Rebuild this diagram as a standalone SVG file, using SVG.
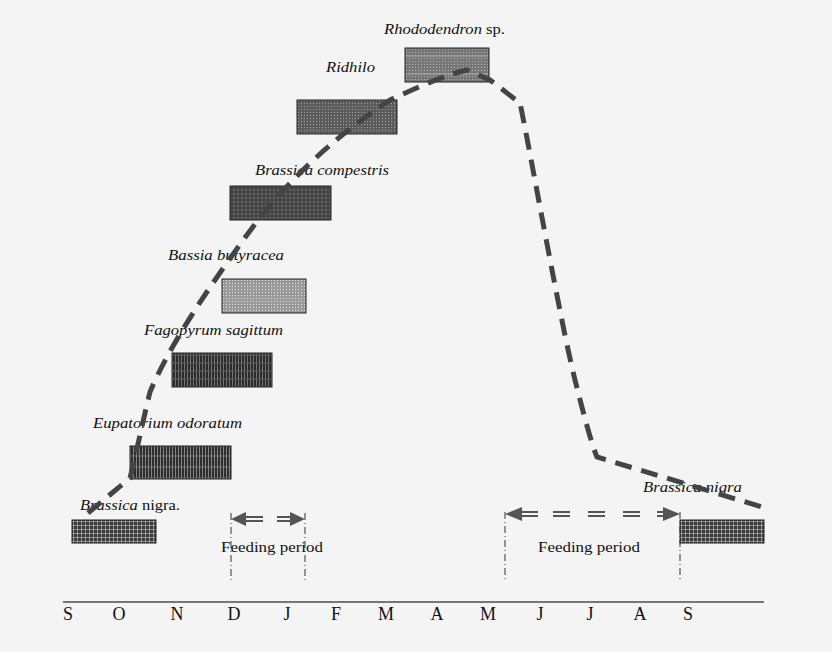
<svg xmlns="http://www.w3.org/2000/svg" width="832" height="652" viewBox="0 0 832 652">
<style>
.lbl{font-family:"Liberation Serif","Times New Roman",serif;font-size:15px;fill:#111}
.it{font-style:italic}
.mon{font-family:"Liberation Serif","Times New Roman",serif;font-size:18px;fill:#111}
.box{stroke:#222;stroke-width:1}
.vline{stroke:#333;stroke-width:1;stroke-dasharray:7 3 1 3;fill:none}
.shaft{stroke:#555;stroke-width:2;fill:none}
.head{fill:#555}
.curve{stroke:#444;stroke-width:5;fill:none;stroke-dasharray:17 10}
</style>
<defs>
<pattern id="pNigra" width="4" height="4" patternUnits="userSpaceOnUse">
<rect width="4" height="4" fill="#3a3a3a"/>
<path d="M1.5 0V4M0 1.5H4" stroke="#c8c8c8" stroke-width="0.6"/>
</pattern>
<pattern id="pEup" width="3" height="11" patternUnits="userSpaceOnUse">
<rect width="3" height="11" fill="#2e2e2e"/>
<path d="M1.5 0V11" stroke="#9a9a9a" stroke-width="0.8"/>
<path d="M0 5H3" stroke="#777" stroke-width="1"/>
</pattern>
<pattern id="pFag" width="3" height="8" patternUnits="userSpaceOnUse">
<rect width="3" height="8" fill="#2a2a2a"/>
<path d="M1.5 0V8" stroke="#8a8a8a" stroke-width="0.8"/>
<path d="M0 3H3" stroke="#555" stroke-width="1.5"/>
</pattern>
<pattern id="pBas" width="3" height="3" patternUnits="userSpaceOnUse">
<rect width="3" height="3" fill="#9a9a9a"/>
<rect x="1" y="1" width="1" height="1" fill="#e0e0e0"/>
</pattern>
<pattern id="pComp" width="4" height="4" patternUnits="userSpaceOnUse">
<rect width="4" height="4" fill="#3c3c3c"/>
<path d="M2 0V4M0 2H4" stroke="#6a6a6a" stroke-width="0.8"/>
</pattern>
<pattern id="pRid" width="3" height="3" patternUnits="userSpaceOnUse">
<rect width="3" height="3" fill="#5c5c5c"/>
<rect x="1" y="1" width="1" height="1" fill="#a0a0a0"/>
</pattern>
<pattern id="pRho" width="3" height="3" patternUnits="userSpaceOnUse">
<rect width="3" height="3" fill="#777"/>
<rect x="1" y="1" width="1" height="1" fill="#b0b0b0"/>
</pattern>
</defs>
<rect width="832" height="652" fill="#f4f4f4"/>

<g id="axis">
<line x1="63" y1="602" x2="764" y2="602" stroke="#777" stroke-width="2"/>
<text class="mon" x="68" y="620" text-anchor="middle">S</text>
<text class="mon" x="119" y="620" text-anchor="middle">O</text>
<text class="mon" x="177" y="620" text-anchor="middle">N</text>
<text class="mon" x="234" y="620" text-anchor="middle">D</text>
<text class="mon" x="287" y="620" text-anchor="middle">J</text>
<text class="mon" x="336" y="620" text-anchor="middle">F</text>
<text class="mon" x="386" y="620" text-anchor="middle">M</text>
<text class="mon" x="437" y="620" text-anchor="middle">A</text>
<text class="mon" x="488" y="620" text-anchor="middle">M</text>
<text class="mon" x="540" y="620" text-anchor="middle">J</text>
<text class="mon" x="590" y="620" text-anchor="middle">J</text>
<text class="mon" x="640" y="620" text-anchor="middle">A</text>
<text class="mon" x="688" y="620" text-anchor="middle">S</text>
</g>

<g id="node-brassica-nigra-left">
<rect class="box" x="72" y="520" width="84" height="23" fill="url(#pNigra)"/>
<text class="lbl" x="80" y="510" textLength="100" lengthAdjust="spacingAndGlyphs"><tspan class="it">Brassica</tspan> nigra.</text>
</g>
<g id="node-eupatorium">
<rect class="box" x="130" y="446" width="101" height="33" fill="url(#pEup)"/>
<text class="lbl it" x="93" y="428" textLength="149" lengthAdjust="spacingAndGlyphs">Eupatorium odoratum</text>
</g>
<g id="node-fagopyrum">
<rect class="box" x="172" y="353" width="100" height="34" fill="url(#pFag)"/>
<text class="lbl it" x="144" y="335" textLength="139" lengthAdjust="spacingAndGlyphs">Fagopyrum sagittum</text>
</g>
<g id="node-bassia">
<rect class="box" x="222" y="279" width="84" height="34" fill="url(#pBas)"/>
<text class="lbl it" x="168" y="260" textLength="116" lengthAdjust="spacingAndGlyphs">Bassia butyracea</text>
</g>
<g id="node-brassica-compestris">
<rect class="box" x="230" y="186" width="101" height="34" fill="url(#pComp)"/>
<text class="lbl it" x="255" y="175" textLength="134" lengthAdjust="spacingAndGlyphs">Brassica compestris</text>
</g>
<g id="node-ridhilo">
<rect class="box" x="297" y="100" width="100" height="34" fill="url(#pRid)"/>
<text class="lbl it" x="326" y="72" textLength="49" lengthAdjust="spacingAndGlyphs">Ridhilo</text>
</g>
<g id="node-rhododendron">
<rect class="box" x="405" y="48" width="84" height="34" fill="url(#pRho)"/>
<line x1="406" y1="56" x2="488" y2="56" stroke="#bbb" stroke-width="0.8"/>
<line x1="406" y1="74" x2="488" y2="74" stroke="#bbb" stroke-width="0.8"/>
<text class="lbl" x="384" y="34" textLength="121" lengthAdjust="spacingAndGlyphs"><tspan class="it">Rhododendron</tspan> sp.</text>
</g>
<g id="node-brassica-nigra-right">
<rect class="box" x="680" y="520" width="84" height="23" fill="url(#pNigra)"/>
<text class="lbl it" x="643" y="492" textLength="99" lengthAdjust="spacingAndGlyphs">Brassica nigra</text>
</g>

<g id="connectors">
<path class="curve" d="M88,513 L130,478 C136,455 143,420 150,392 C172,340 215,278 258,220 C290,180 330,140 390,100 C420,86 448,74 467,70 L490,80 L520,103 C530,150 560,320 575,380 C585,420 592,445 597,457 L762,507"/>

<g id="feeding-left">
<line class="vline" x1="231" y1="513" x2="231" y2="580"/>
<line class="vline" x1="305" y1="513" x2="305" y2="580"/>
<path class="head" d="M231,519 L246,512 L246,526 Z"/>
<path class="head" d="M305,519 L290,512 L290,526 Z"/>
<path class="shaft" d="M245,517H263M245,521H263M277,517H291M277,521H291"/>
<text class="lbl" x="221" y="552" textLength="102" lengthAdjust="spacingAndGlyphs">Feeding period</text>
</g>
<g id="feeding-right">
<line class="vline" x1="505" y1="512" x2="505" y2="580"/>
<line class="vline" x1="680" y1="512" x2="680" y2="580"/>
<path class="head" d="M505,514 L522,507 L522,521 Z"/>
<path class="head" d="M680,514 L663,507 L663,521 Z"/>
<path class="shaft" d="M521,512H538M521,516H538M553,512H570M553,516H570M588,512H605M588,516H605M623,512H640M623,516H640M657,512H665M657,516H665"/>
<text class="lbl" x="538" y="552" textLength="102" lengthAdjust="spacingAndGlyphs">Feeding period</text>
</g>
</g>
</svg>
